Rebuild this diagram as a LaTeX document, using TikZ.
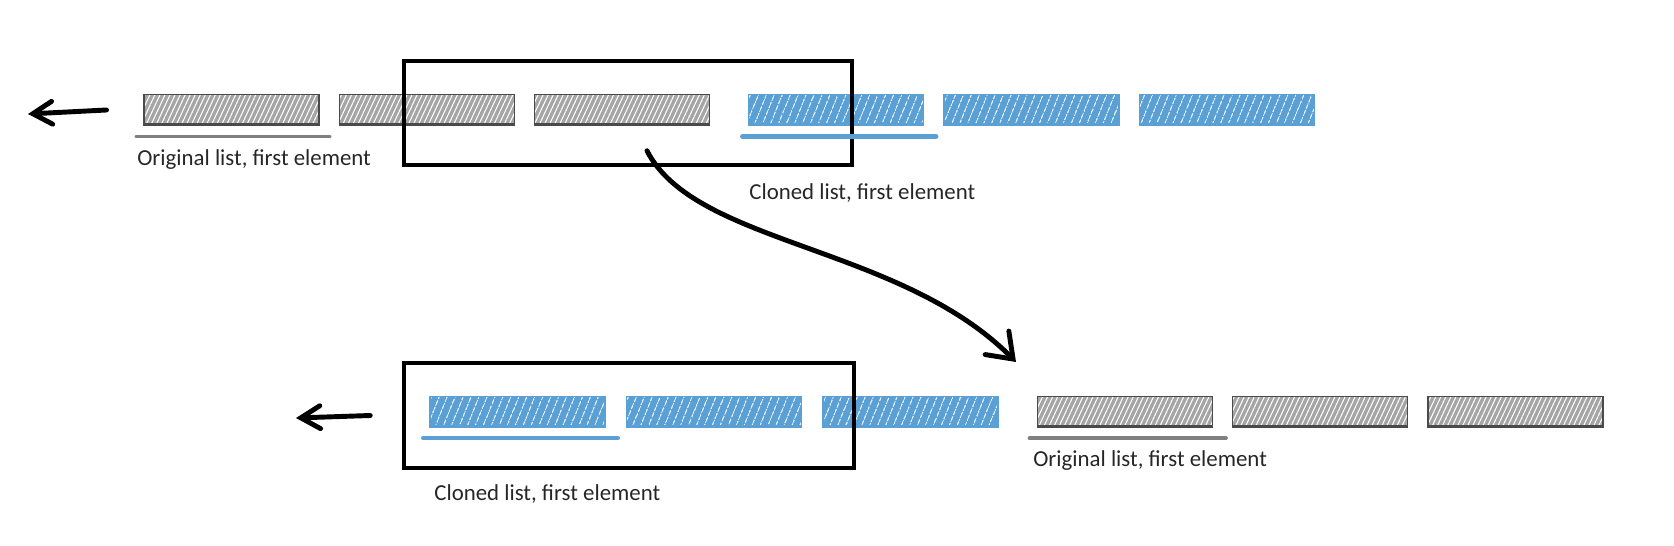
\documentclass[tikz,border=0pt]{standalone}
\usepackage{fontspec}
\setmainfont{Carlito}
\usetikzlibrary{positioning,patterns.meta,arrows.meta}

\definecolor{listblue}{HTML}{5AA0D5}
\definecolor{listgray}{HTML}{A5A5A5}
\definecolor{inkgray}{HTML}{4A4A4A}

\tikzset{
  elem/.style={minimum width=3.5cm, minimum height=0.62cm, inner sep=0pt, line width=0.8pt},
  graylist/.style={elem, draw=inkgray, preaction={fill=listgray},
    pattern={Lines[angle=65,distance=2.6pt,line width=0.6pt]}, pattern color=white,
    path picture={\draw[inkgray,line width=2.4pt] (path picture bounding box.south west) -- (path picture bounding box.south east);}},
  bluelist/.style={elem, draw=listblue, preaction={fill=listblue},
    pattern={Lines[angle=68,distance=4pt,line width=0.45pt]}, pattern color=white,
    path picture={\draw[listblue,line width=2.4pt] (path picture bounding box.south west) -- (path picture bounding box.south east);}},
  framebox/.style={draw, line width=2pt, inner sep=0pt},
  grayline/.style={draw=gray, line width=2.2pt, line cap=round},
  blueline/.style={draw=listblue, line width=2.6pt, line cap=round},
  caption/.style={anchor=west, inner sep=0pt, text=black!85, font=\fontsize{13}{15}\selectfont},
  leftarrow/.style={line width=2.8pt, line cap=round, -{Straight Barb[length=11pt,width=13pt,line cap=round]}},
  movearrow/.style={line width=2.8pt, line cap=round, -{Straight Barb[length=13pt,width=19pt,line cap=round]}}
}

\begin{document}
\begin{tikzpicture}
\useasboundingbox (0,0) rectangle (33.48,-10.92);

% before: original list, cloned list appended
\node[graylist] (origA) at (4.63,-2.2) {};
\node[graylist, right=0.38cm of origA] (origB) {};
\node[graylist, right=0.38cm of origB] (origC) {};
\node[bluelist, right=0.76cm of origC] (cloneA) {};
\node[bluelist, right=0.38cm of cloneA] (cloneB) {};
\node[bluelist, right=0.38cm of cloneB] (cloneC) {};

\node[framebox, minimum width=8.96cm, minimum height=2.08cm] (topframe) at (12.56,-2.26) {};

\draw[grayline] ([xshift=-0.14cm,yshift=-0.21cm]origA.south west) -- ([xshift=0.2cm,yshift=-0.21cm]origA.south east);
\draw[blueline] ([xshift=-0.12cm,yshift=-0.21cm]cloneA.south west) -- ([xshift=0.24cm,yshift=-0.21cm]cloneA.south east);

\node[caption] (origtext) at (2.74,-3.2) {Original list, first element};
\node[caption] (clonetext) at (14.98,-3.86) {Cloned list, first element};

\coordinate (topend) at (0.56,-2.28);
\draw[leftarrow] ([xshift=-0.74cm]origA.west) -- (topend);

% after: cloned list first, original list behind it
\node[bluelist] (cloneA2) at (10.35,-8.24) {};
\node[bluelist, right=0.4cm of cloneA2] (cloneB2) {};
\node[bluelist, right=0.4cm of cloneB2] (cloneC2) {};
\node[graylist, right=0.76cm of cloneC2] (origA2) {};
\node[graylist, right=0.38cm of origA2] (origB2) {};
\node[graylist, right=0.38cm of origB2] (origC2) {};

\node[framebox, minimum width=9cm, minimum height=2.1cm] (botframe) at (12.58,-8.31) {};

\draw[blueline] ([xshift=-0.12cm,yshift=-0.2cm]cloneA2.south west) -- ([xshift=0.24cm,yshift=-0.2cm]cloneA2.south east);
\draw[grayline] ([xshift=-0.14cm,yshift=-0.2cm]origA2.south west) -- ([xshift=0.26cm,yshift=-0.2cm]origA2.south east);

\node[caption] (clonetext2) at (8.68,-9.88) {Cloned list, first element};
\node[caption] (origtext2) at (20.66,-9.22) {Original list, first element};

\coordinate (botend) at (5.92,-8.36);
\draw[leftarrow] ([xshift=-0.64cm]botframe.west) -- (botend);

% the move
\coordinate (movestart) at ([xshift=0.38cm,yshift=0.32cm]topframe.south);
\coordinate (moveend) at (20.32,-7.24);
\draw[movearrow] (movestart) .. controls (13.9,-4.9) and (18,-4.9) .. (moveend);
\end{tikzpicture}
\end{document}
